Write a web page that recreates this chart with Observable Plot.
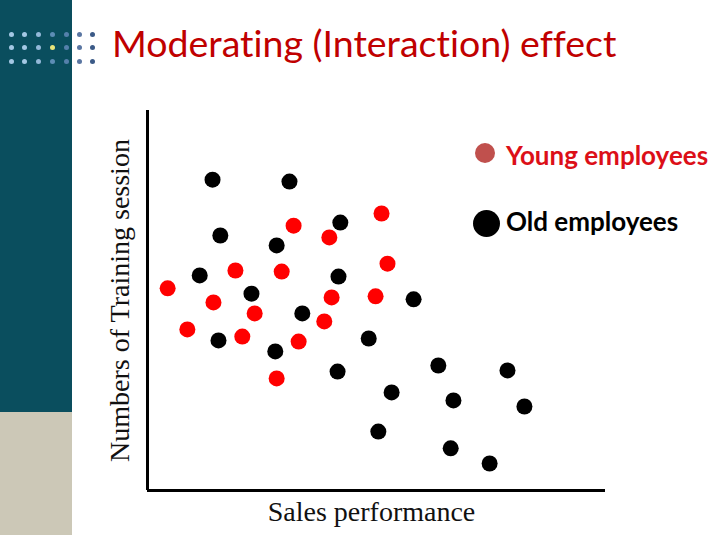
<!DOCTYPE html>
<html>
<head>
<meta charset="utf-8">
<script src="https://cdn.jsdelivr.net/npm/d3@7"></script>
<script src="https://cdn.jsdelivr.net/npm/@observablehq/plot@0.6"></script>
<style>
  html, body { margin: 0; padding: 0; background: #fff; }
  #page { position: relative; width: 720px; height: 540px; overflow: hidden; background: #fff; }
  .abs { position: absolute; }
  #title { left: 112px; top: 20px; font-family: Lato, sans-serif; font-size: 37.5px; line-height: 1.2; color: #c00000; white-space: nowrap; font-variant-ligatures: none; }
  .legtext { font-family: Lato, sans-serif; font-size: 26px; font-weight: 700; line-height: 1.2; white-space: nowrap; font-variant-ligatures: none; }
  .legdot { border-radius: 50%; }
  #chart { left: 100px; top: 100px; }
</style>
</head>
<body>
<div id="page">
  <div class="abs" style="left:0;top:0;width:72px;height:412px;background:#0a4e5e;"></div>
  <div class="abs" style="left:0;top:412px;width:72px;height:123px;background:#ccc8b7;"></div>
  <div id="deco"></div>
  <div id="title" class="abs"></div>
  <div id="legend"></div>
  <div id="chart" class="abs"></div>
</div>
<script>
// ---- Data (arbitrary 0–10 units, no tick labels) ----
const titleText = "Moderating (Interaction) effect";
const xLabel = "Sales performance";
const yLabel = "Numbers of Training session";
const seriesNames = ["Young employees", "Old employees"];

const youngSales    = [5.11, 3.19, 3.97, 5.24, 1.92, 2.93, 0.44, 1.44, 4.02, 4.98, 2.34, 3.86, 0.87, 2.07, 3.30, 2.82];
const youngTraining = [7.29, 6.97, 6.66, 5.97, 5.79, 5.76, 5.32, 4.95, 5.08, 5.11, 4.66, 4.45, 4.24, 4.05, 3.92, 2.95];

const oldSales    = [1.42, 3.10, 1.59, 4.21, 2.82, 1.14, 4.17, 2.27, 5.81, 3.38, 1.55, 4.83, 2.79, 4.15, 6.35, 7.86, 5.33, 6.68, 8.23, 5.04, 6.62, 7.47];
const oldTraining = [8.18, 8.13, 6.71, 7.05, 6.45, 5.66, 5.63, 5.18, 5.03, 4.66, 3.95, 4.00, 3.66, 3.13, 3.29, 3.16, 2.58, 2.37, 2.21, 1.55, 1.11, 0.71];

// ---- Build tables ----
const young = youngSales.map((s, i) => ({sales: s, training: youngTraining[i]}));
const old = oldSales.map((s, i) => ({sales: s, training: oldTraining[i]}));

// ---- Slide decoration (dot grid) ----
const deco = document.getElementById("deco");
const dxs = [11, 24, 38, 52, 66, 79, 92], dys = [34, 47, 61];
const colColors = ["#a4c8e4", "#a4c8e4", "#93b8d8", "#5d8db5", "#5580ab", "#5a76a2", "#3b5a87"];
dys.forEach((yy, ri) => dxs.forEach((xx, ci) => {
  const d = document.createElement("div");
  d.className = "abs";
  const c = (ri === 1 && ci === 3) ? "#e9e47a" : colColors[ci];
  d.style.cssText = `left:${xx-2.5}px;top:${yy-2.5}px;width:5px;height:5px;border-radius:50%;background:${c};`;
  deco.appendChild(d);
}));

// ---- Title ----
document.getElementById("title").textContent = titleText;

// ---- Legend ----
const legend = document.getElementById("legend");
const legendItems = [
  {name: seriesNames[0], dot: "#c0504d", r: 10, cx: 485, cy: 153, text: "#dc0f18", top: 139.5},
  {name: seriesNames[1], dot: "#000000", r: 13.5, cx: 486, cy: 223, text: "#000000", top: 205.5}
];
legendItems.forEach(it => {
  const c = document.createElement("div");
  c.className = "abs legdot";
  c.style.cssText = `left:${it.cx - it.r}px;top:${it.cy - it.r}px;width:${2*it.r}px;height:${2*it.r}px;background:${it.dot};`;
  legend.appendChild(c);
  const t = document.createElement("div");
  t.className = "abs legtext";
  t.style.cssText = `left:506px;top:${it.top}px;color:${it.text};`;
  t.textContent = it.name;
  legend.appendChild(t);
});

// ---- Chart ----
const chart = Plot.plot({
  width: 620,
  height: 420,
  marginLeft: 47,
  marginRight: 115,
  marginTop: 10,
  marginBottom: 30,
  style: {background: "transparent", overflow: "visible"},
  x: {domain: [0, 10], axis: null},
  y: {domain: [0, 10], axis: null},
  marks: [
    Plot.ruleX([0], {stroke: "#000", strokeWidth: 3}),
    Plot.ruleY([0], {stroke: "#000", strokeWidth: 3}),
    Plot.dot(old, {x: "sales", y: "training", r: 8, fill: "#000", stroke: "none"}),
    Plot.dot(young, {x: "sales", y: "training", r: 8, fill: "#ff0000", stroke: "none"}),
    Plot.text([xLabel], {frameAnchor: "bottom", textAnchor: "middle", lineAnchor: "middle", dy: 22, dx: -5, fontSize: 28, fontFamily: "Liberation Serif", fill: "#111"}),
    Plot.text([yLabel], {frameAnchor: "left", textAnchor: "middle", lineAnchor: "middle", dx: -27, rotate: -90, fontSize: 28, fontFamily: "Liberation Serif", fill: "#111"})
  ]
});
document.getElementById("chart").appendChild(chart);
</script>
</body>
</html>
